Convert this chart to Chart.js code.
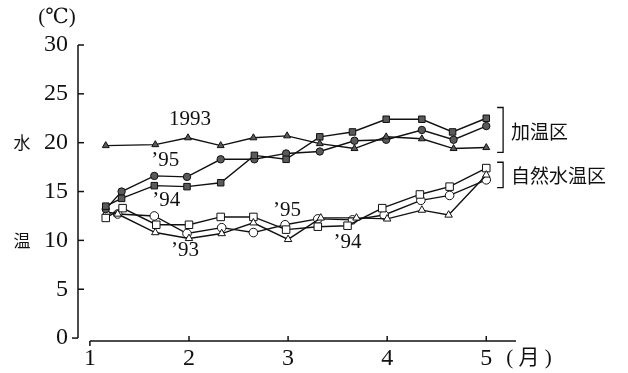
<!DOCTYPE html>
<html>
<head>
<meta charset="utf-8">
<script src="https://cdn.jsdelivr.net/npm/chart.js@4/dist/chart.umd.min.js"></script>
<style>
  html, body { margin: 0; padding: 0; background: #fff; }
  #wrap { width: 628px; height: 373px; }
</style>
</head>
<body>
<div id="wrap"><canvas id="waterTemp" width="628" height="373"></canvas></div>
<script>
// Axis ticks
const monthTicks = [1, 2, 3, 4, 5];
const tempTicks = [0, 5, 10, 15, 20, 25, 30];

// 加温区 (heated plot)
const heat93Months = [1.16, 1.66, 1.99, 2.32, 2.65, 2.99, 3.32, 3.67, 3.99, 4.35, 4.67, 5.0];
const heat93Temps  = [19.7, 19.8, 20.5, 19.7, 20.5, 20.7, 19.9, 19.4, 20.6, 20.4, 19.4, 19.5];
const heat94Months = [1.16, 1.32, 1.65, 1.98, 2.32, 2.66, 2.98, 3.32, 3.65, 3.99, 4.35, 4.66, 5.0];
const heat94Temps  = [13.5, 14.3, 15.6, 15.5, 15.9, 18.7, 18.3, 20.6, 21.1, 22.4, 22.4, 21.1, 22.5];
const heat95Months = [1.16, 1.32, 1.65, 1.98, 2.32, 2.66, 2.98, 3.32, 3.67, 3.99, 4.35, 4.67, 5.0];
const heat95Temps  = [13.2, 15.0, 16.6, 16.5, 18.3, 18.3, 18.9, 19.1, 20.2, 20.3, 21.3, 20.3, 21.7];

// 自然水温区 (natural water temperature plot)
const nat93Months = [1.17, 1.28, 1.66, 2.0, 2.33, 2.65, 3.0, 3.33, 3.69, 4.0, 4.35, 4.62, 5.0];
const nat93Temps  = [12.9, 12.7, 10.8, 10.2, 10.7, 11.8, 10.1, 12.3, 12.3, 12.2, 13.1, 12.6, 16.7];
const nat94Months = [1.16, 1.33, 1.67, 2.0, 2.32, 2.65, 2.98, 3.3, 3.6, 3.95, 4.33, 4.63, 5.0];
const nat94Temps  = [12.3, 13.3, 11.6, 11.6, 12.4, 12.4, 11.1, 11.4, 11.5, 13.3, 14.7, 15.5, 17.4];
const nat95Months = [1.28, 1.65, 1.98, 2.33, 2.65, 2.97, 3.3, 3.65, 3.97, 4.34, 4.63, 5.0];
const nat95Temps  = [12.7, 12.5, 10.7, 11.3, 10.8, 11.6, 12.2, 12.1, 12.6, 14.1, 14.6, 16.2];

const INK = '#111';
const FILL_DARK = '#5a5a5a';
const SERIF = "'Liberation Serif', 'DejaVu Serif', 'Noto Sans CJK JP', serif";
const CJK = "'Noto Sans CJK JP', 'Noto Sans CJK SC', sans-serif";

function toPoints(months, temps) {
  return months.map((m, i) => ({ x: m, y: temps[i] }));
}

function series(months, temps, style, filled, radius) {
  return {
    data: toPoints(months, temps),
    borderColor: INK,
    borderWidth: 1.4,
    tension: 0,
    pointStyle: style,
    pointRadius: radius,
    pointBorderWidth: 1,
    pointBorderColor: INK,
    pointBackgroundColor: filled ? FILL_DARK : '#fff',
    fill: false
  };
}

// text labels, placed in data units
const notes = [
  { text: '1993', x: 2.01, y: 22.4 },
  { text: '\u201995', x: 1.76, y: 18.2 },
  { text: '\u201994', x: 1.77, y: 14.1 },
  { text: '\u201995', x: 2.99, y: 13.1 },
  { text: '\u201993', x: 1.96, y: 9.0 },
  { text: '\u201994', x: 3.6, y: 9.8 }
];

const groupBrackets = [
  { label: '加温区', top: 23.6, bottom: 19.0, textY: 21.1 },
  { label: '自然水温区', top: 18.0, bottom: 15.4, textY: 16.6 }
];

const axisAndNotes = {
  id: 'axisAndNotes',
  afterDraw(chart) {
    const ctx = chart.ctx;
    const xs = chart.scales.x;
    const ys = chart.scales.y;
    const left = chart.chartArea.left;
    const bottom = chart.chartArea.bottom;

    ctx.save();
    ctx.strokeStyle = INK;
    ctx.lineWidth = 1.5;

    // y axis with ticks
    ctx.beginPath();
    ctx.moveTo(left, ys.getPixelForValue(0));
    ctx.lineTo(left, ys.getPixelForValue(30));
    ctx.stroke();
    tempTicks.forEach(v => {
      const y = ys.getPixelForValue(v);
      ctx.beginPath();
      if (v === 0) { ctx.moveTo(left - 6, y); ctx.lineTo(left, y); }
      else { ctx.moveTo(left, y); ctx.lineTo(left + 6, y); }
      ctx.stroke();
    });

    // x axis with ticks
    ctx.beginPath();
    ctx.moveTo(xs.getPixelForValue(1), bottom);
    ctx.lineTo(xs.right, bottom);
    ctx.stroke();
    monthTicks.forEach(m => {
      const x = xs.getPixelForValue(m);
      ctx.beginPath();
      if (m === 1) { ctx.moveTo(x, bottom); ctx.lineTo(x, bottom + 5); }
      else { ctx.moveTo(x, bottom); ctx.lineTo(x, bottom - 5); }
      ctx.stroke();
    });

    // series labels
    ctx.fillStyle = INK;
    ctx.textAlign = 'center';
    ctx.textBaseline = 'middle';
    ctx.font = '21px ' + SERIF;
    notes.forEach(n => {
      ctx.fillText(n.text, xs.getPixelForValue(n.x), ys.getPixelForValue(n.y));
    });

    // brackets with group names
    const bx = xs.getPixelForValue(5.17);
    ctx.lineWidth = 1.3;
    ctx.font = '19px ' + CJK;
    ctx.textAlign = 'left';
    groupBrackets.forEach(b => {
      const t = ys.getPixelForValue(b.top);
      const btm = ys.getPixelForValue(b.bottom);
      ctx.beginPath();
      ctx.moveTo(bx - 6, t);
      ctx.lineTo(bx, t);
      ctx.lineTo(bx, btm);
      ctx.lineTo(bx - 6, btm);
      ctx.stroke();
      ctx.fillText(b.label, bx + 8, ys.getPixelForValue(b.textY));
    });

    // axis titles
    ctx.font = '17px ' + CJK;
    ctx.textAlign = 'center';
    ctx.fillText('水', 22, ys.getPixelForValue(20));
    ctx.fillText('温', 22, ys.getPixelForValue(10));
    ctx.font = '21px ' + SERIF;
    ctx.fillText('(℃)', 57, 17);
    ctx.textAlign = 'left';
    ctx.fillText('( 月 )', xs.getPixelForValue(5) + 20, 358);
    ctx.restore();
  }
};

new Chart(document.getElementById('waterTemp'), {
  type: 'line',
  data: {
    datasets: [
      series(heat93Months, heat93Temps, 'triangle', true, 4),
      series(heat94Months, heat94Temps, 'rect', true, 4.6),
      series(heat95Months, heat95Temps, 'circle', true, 3.7),
      series(nat93Months, nat93Temps, 'triangle', false, 4.3),
      series(nat94Months, nat94Temps, 'rect', false, 5.3),
      series(nat95Months, nat95Temps, 'circle', false, 4.3)
    ]
  },
  options: {
    responsive: false,
    animation: false,
    devicePixelRatio: 1,
    layout: { padding: { top: 45, right: 112, left: 0, bottom: 0 } },
    plugins: { legend: { display: false }, tooltip: { enabled: false } },
    scales: {
      x: {
        type: 'linear',
        min: 0.88,
        max: 5.3,
        grid: { display: false, drawTicks: false },
        border: { display: false },
        afterBuildTicks: s => { s.ticks = monthTicks.map(v => ({ value: v })); },
        afterFit: s => { s.height = 32; },
        ticks: {
          color: INK,
          padding: 3,
          maxRotation: 0,
          font: { family: SERIF, size: 24 }
        }
      },
      y: {
        min: -0.3,
        max: 30,
        grid: { display: false, drawTicks: false },
        border: { display: false },
        afterBuildTicks: s => { s.ticks = tempTicks.map(v => ({ value: v })); },
        afterFit: s => { s.width = 78; },
        ticks: {
          color: INK,
          padding: 10,
          font: { family: SERIF, size: 24 }
        }
      }
    }
  },
  plugins: [axisAndNotes]
});
</script>
</body>
</html>
